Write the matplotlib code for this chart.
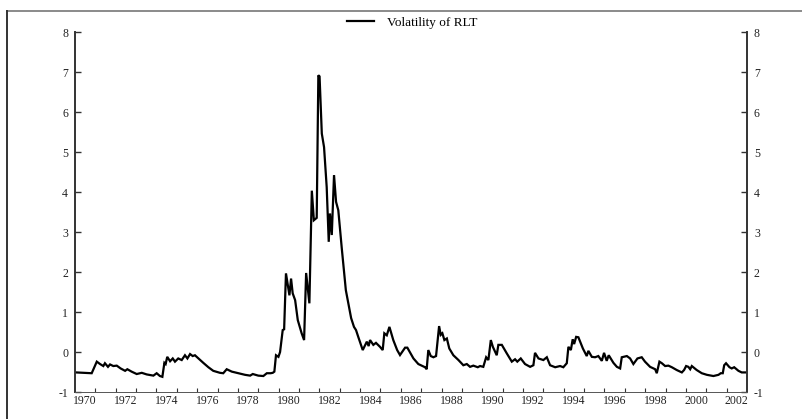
import numpy as np
import matplotlib.pyplot as plt
from matplotlib.lines import Line2D
from matplotlib.ticker import FixedLocator

# volatility series (decimal year, value)
years = [
    1970.05, 1970.82, 1971.07, 1971.23, 1971.39, 1971.47, 1971.62, 1971.72, 1971.88, 1972.05,
    1972.24, 1972.46, 1972.57, 1972.78, 1973.03, 1973.28, 1973.52, 1973.85, 1974.01, 1974.17,
    1974.29, 1974.39, 1974.45, 1974.53, 1974.67, 1974.80, 1974.91, 1975.07, 1975.24, 1975.40,
    1975.52, 1975.65, 1975.78, 1975.89, 1976.06, 1976.30, 1976.55, 1976.79, 1977.12, 1977.28,
    1977.45, 1977.70, 1978.02, 1978.35, 1978.60, 1978.73, 1979.00, 1979.25, 1979.42, 1979.61,
    1979.71, 1979.79, 1979.87, 1979.99, 1980.07,
    1980.20, 1980.27, 1980.36, 1980.53, 1980.61, 1980.69, 1980.81, 1980.94, 1981.13, 1981.25,
    1981.35, 1981.51, 1981.63, 1981.73, 1981.87, 1981.95, 1982.01, 1982.12, 1982.23, 1982.36,
    1982.46, 1982.52, 1982.61, 1982.72, 1982.82, 1982.93, 1983.10, 1983.30, 1983.42, 1983.56,
    1983.70, 1983.80, 1983.91, 1984.13, 1984.33, 1984.42, 1984.49, 1984.65, 1984.78, 1984.98,
    1985.11, 1985.19, 1985.31, 1985.44, 1985.63, 1985.82, 1985.96,
    1986.21, 1986.32, 1986.62, 1986.86, 1987.19, 1987.27, 1987.35, 1987.47, 1987.60, 1987.73,
    1987.88, 1987.96, 1988.04, 1988.14, 1988.26, 1988.38, 1988.58, 1988.83, 1989.07, 1989.24,
    1989.40, 1989.56, 1989.78, 1989.89, 1990.05, 1990.19, 1990.30, 1990.42, 1990.52, 1990.71,
    1990.79, 1990.96, 1991.20, 1991.45, 1991.61, 1991.72, 1991.89, 1992.10, 1992.35, 1992.51,
    1992.59, 1992.76, 1993.00, 1993.17, 1993.33, 1993.58, 1993.82, 1993.98, 1994.15, 1994.23,
    1994.35, 1994.44, 1994.51, 1994.61, 1994.72, 1994.94, 1995.13, 1995.21, 1995.38, 1995.54,
    1995.70, 1995.87, 1995.98, 1996.11, 1996.21, 1996.44, 1996.61, 1996.77, 1996.85, 1997.10,
    1997.26, 1997.42, 1997.62, 1997.83, 1997.99, 1998.24, 1998.49,
    1998.57, 1998.70, 1998.82, 1998.98, 1999.14, 1999.31, 1999.55, 1999.80, 1999.91, 2000.01,
    2000.12, 2000.21, 2000.29, 2000.53, 2000.78, 2001.03, 2001.35, 2001.60, 2001.71, 2001.81,
    2001.88, 2001.97, 2002.14, 2002.25, 2002.37, 2002.58, 2002.74, 2002.99,
]
vol = [
    -0.51, -0.53, -0.24, -0.30, -0.35, -0.28, -0.37, -0.31, -0.35, -0.34,
    -0.41, -0.47, -0.43, -0.49, -0.55, -0.52, -0.56, -0.59, -0.53, -0.60,
    -0.62, -0.27, -0.30, -0.12, -0.23, -0.16, -0.24, -0.16, -0.20, -0.08,
    -0.16, -0.05, -0.10, -0.08, -0.16, -0.27, -0.38, -0.47, -0.52, -0.53,
    -0.43, -0.49, -0.53, -0.57, -0.59, -0.55, -0.59, -0.60, -0.53, -0.53,
    -0.52, -0.49, -0.08, -0.12, 0.00,
    0.55, 0.57, 1.97, 1.42, 1.84, 1.47, 1.30, 0.80, 0.47, 0.30,
    1.98, 1.22, 4.04, 3.30, 3.36, 6.93, 6.90, 5.47, 5.13, 4.13,
    2.76, 3.47, 2.93, 4.43, 3.76, 3.55, 2.60, 1.55, 1.22, 0.85,
    0.63, 0.55, 0.38, 0.05, 0.26, 0.15, 0.30, 0.18, 0.23, 0.13,
    0.05, 0.47, 0.42, 0.63, 0.30, 0.05, -0.075,
    0.11, 0.11, -0.16, -0.30, -0.38, -0.43, 0.05, -0.10, -0.13, -0.10,
    0.65, 0.43, 0.47, 0.30, 0.34, 0.09, -0.08, -0.20, -0.33, -0.30,
    -0.37, -0.34, -0.38, -0.35, -0.37, -0.13, -0.20, 0.30, 0.13, -0.08,
    0.18, 0.18, -0.03, -0.24, -0.18, -0.24, -0.16, -0.30, -0.37, -0.33,
    -0.02, -0.16, -0.20, -0.13, -0.33, -0.38, -0.35, -0.38, -0.28, 0.13,
    0.05, 0.32, 0.20, 0.38, 0.37, 0.09, -0.10, 0.03, -0.12, -0.13,
    -0.10, -0.22, -0.02, -0.22, -0.08, -0.27, -0.37, -0.41, -0.13, -0.10,
    -0.16, -0.30, -0.16, -0.13, -0.24, -0.37, -0.43,
    -0.53, -0.24, -0.28, -0.35, -0.34, -0.38, -0.45, -0.51, -0.45, -0.35,
    -0.37, -0.43, -0.35, -0.45, -0.53, -0.57, -0.60, -0.57, -0.53, -0.53,
    -0.33, -0.28, -0.38, -0.41, -0.38, -0.47, -0.51, -0.51,
]

label_years = list(range(1970, 2003, 2))
yticks = list(range(-1, 9))

plt.rcParams['font.family'] = ['Liberation Serif', 'DejaVu Serif']
plt.rcParams['axes.unicode_minus'] = False

fig = plt.figure(figsize=(8.02, 4.19), dpi=100)
ax = fig.add_axes([75 / 802, 27 / 419, 672 / 802, 359.5 / 419])

ax.plot(years, vol, color='black', lw=1.6, label='Volatility of RLT', solid_joinstyle='miter')

ax.set_xlim(1970, 2003)
ax.set_ylim(-1, 8)

# year labels sit mid-year, tick marks on year boundaries
ax.xaxis.set_major_locator(FixedLocator([y + 0.5 for y in label_years]))
ax.set_xticklabels([str(y) for y in label_years])
ax.xaxis.set_minor_locator(FixedLocator(list(range(1971, 2003))))
ax.tick_params(axis='x', which='major', length=0, pad=2.5, labelsize=8.5, labelcolor='#222222')
ax.tick_params(axis='x', which='minor', direction='in', length=3, width=0.8, color='#333333')

ax.set_yticks(yticks)
ax.tick_params(axis='y', which='major', direction='in', length=4, width=1,
               labelsize=8.5, left=True, right=True, labelleft=True, labelright=True,
               pad=5, color='#333333', labelcolor='#222222')

for side in ['left', 'right']:
    ax.spines[side].set_linewidth(1.4)
    ax.spines[side].set_color('#333333')
ax.spines['bottom'].set_linewidth(0.7)
ax.spines['bottom'].set_color('#555555')
ax.spines['top'].set_visible(False)

ax.legend(loc='center', bbox_to_anchor=(0.514, 0.946), bbox_transform=fig.transFigure,
          frameon=False, fontsize=9.5, handlelength=2.1, handletextpad=1.0)

# outer frame
fig.add_artist(Line2D([7 / 802, 1.0], [1 - 10.7 / 419, 1 - 10.7 / 419],
                      transform=fig.transFigure, color='#8a8a8a', lw=1.4))
fig.add_artist(Line2D([7 / 802, 7 / 802], [0, 1 - 10.7 / 419],
                      transform=fig.transFigure, color='#333333', lw=1.4))

fig.savefig('out.png', dpi=100)
